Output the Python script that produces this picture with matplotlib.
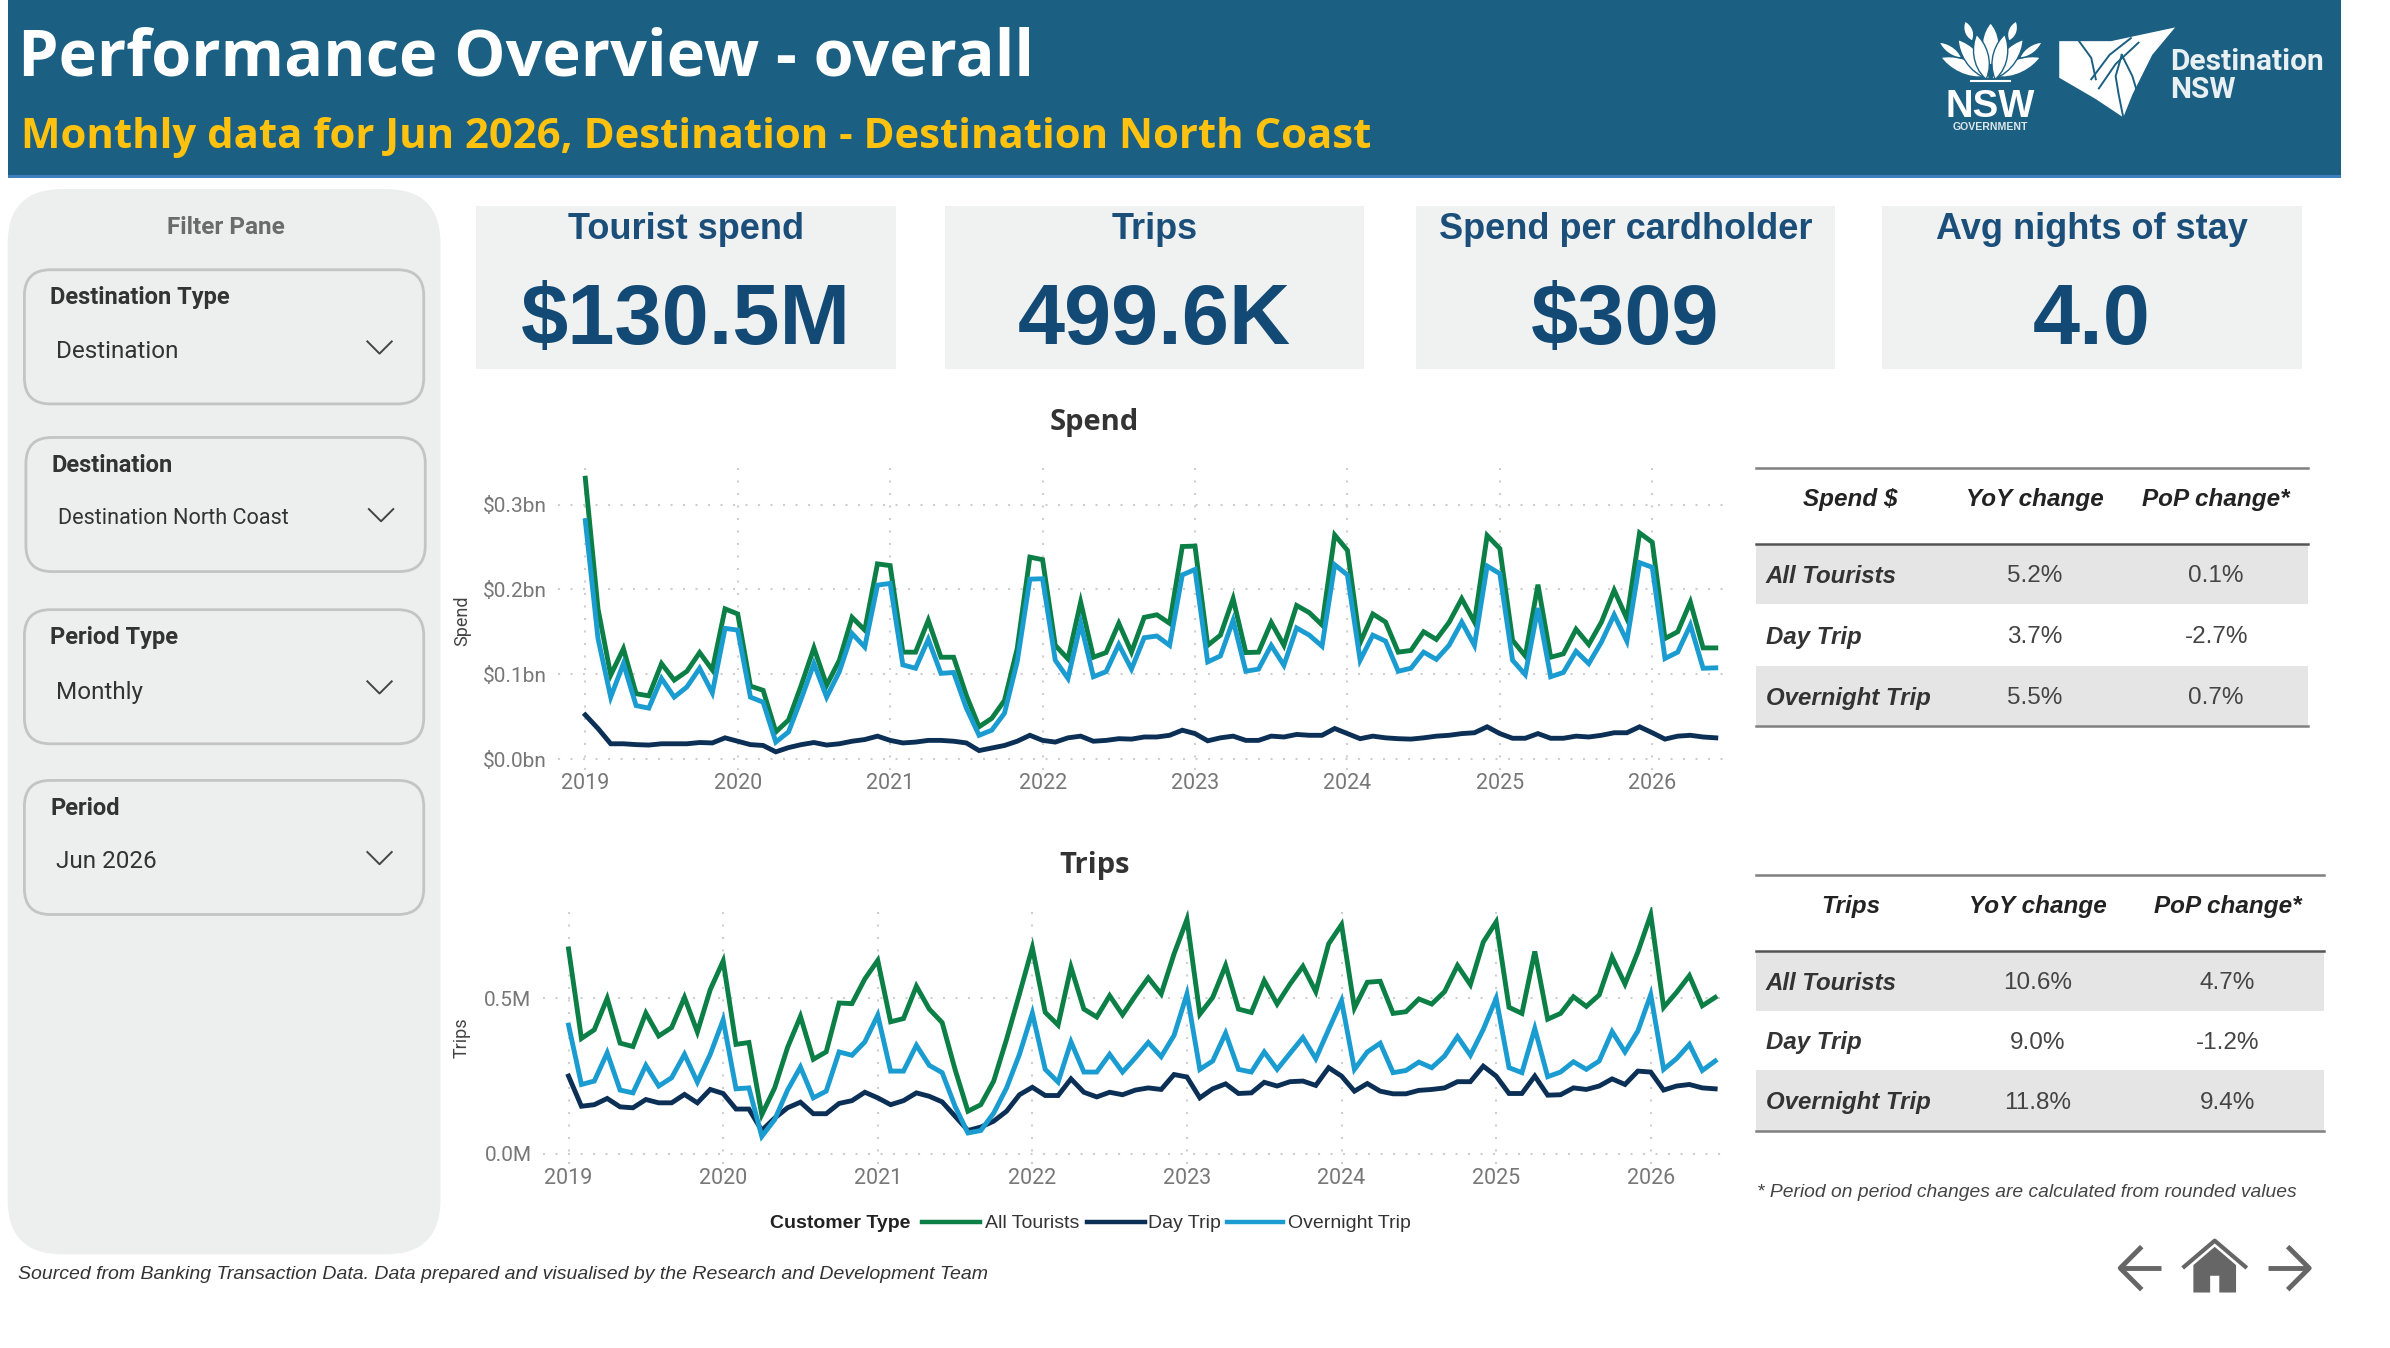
import matplotlib
matplotlib.use("Agg")
import matplotlib.pyplot as plt
from matplotlib.patches import FancyBboxPatch, Rectangle, Polygon, PathPatch
from matplotlib.path import Path
import numpy as np

years = [2019, 2020, 2021, 2022, 2023, 2024, 2025, 2026]

spend_all = [0.331,0.177,0.099,0.130,0.077,0.0745,0.1125,0.093,0.1035,0.1255,0.105,0.177,0.171,0.086,0.081,0.032,0.046,0.087,0.131,0.087,0.1165,0.167,0.152,0.230,0.228,0.126,0.126,0.1635,0.120,0.120,0.075,0.038,0.048,0.069,0.130,0.238,0.235,0.134,0.118,0.185,
0.120,0.1255,0.160,0.126,0.167,0.170,0.160,0.2505,0.251,0.134,0.146,0.189,0.1255,0.126,0.161,0.134,0.181,0.1725,0.158,0.264,0.246,0.137,0.171,0.1615,0.126,0.128,0.150,0.141,0.161,0.189,0.1615,0.2635,0.248,0.140,0.1215,0.2055,0.120,0.124,0.153,0.135,0.1615,0.199,0.1655,0.2665,0.2555,0.142,0.150,0.185,0.131,0.131]
spend_over = [0.281,0.142,0.073,0.1125,0.063,0.060,0.095,0.073,0.085,0.107,0.078,0.154,0.152,0.073,0.067,0.020,0.032,0.071,0.1125,0.073,0.103,0.148,0.132,0.205,0.207,0.111,0.107,0.141,0.101,0.102,0.060,0.028,0.034,0.054,0.1145,0.212,0.2125,0.1165,0.095,0.160,
0.097,0.103,0.135,0.106,0.143,0.145,0.134,0.217,0.2235,0.1145,0.1215,0.1635,0.1035,0.106,0.134,0.1105,0.1545,0.146,0.133,0.229,0.217,0.1165,0.146,0.139,0.1035,0.107,0.126,0.1175,0.134,0.1615,0.134,0.2275,0.2185,0.1165,0.0995,0.178,0.097,0.102,0.127,0.1125,0.138,0.170,0.139,0.2315,0.226,0.1185,0.126,0.158,0.107,0.1075]
spend_day = [0.052,0.036,0.018,0.018,0.017,0.0165,0.018,0.018,0.018,0.0195,0.019,0.025,0.021,0.017,0.016,0.0085,0.0135,0.017,0.0195,0.0165,0.018,0.021,0.023,0.027,0.022,0.019,0.020,0.022,0.022,0.021,0.019,0.010,0.013,0.016,0.021,0.028,0.022,0.020,0.025,0.027,
0.021,0.022,0.024,0.0235,0.026,0.026,0.028,0.034,0.030,0.0215,0.025,0.027,0.022,0.022,0.027,0.026,0.029,0.028,0.028,0.036,0.030,0.024,0.027,0.025,0.024,0.0235,0.025,0.027,0.028,0.030,0.031,0.038,0.030,0.0245,0.0245,0.030,0.0245,0.0245,0.027,0.026,0.028,0.031,0.031,0.038,0.031,0.0235,0.027,0.028,0.026,0.025]

trips_all = [0.659,0.371,0.399,0.500,0.356,0.345,0.4525,0.379,0.406,0.503,0.392,0.528,0.620,0.352,0.358,0.126,0.212,0.342,0.442,0.304,0.328,0.485,0.483,0.5625,0.622,0.4246,0.435,0.539,0.4655,0.422,0.2716,0.137,0.158,0.234,0.3685,0.514,0.663,0.455,0.414,0.600,0.4655,
0.44,0.5086,0.447,0.5086,0.566,0.514,0.643,0.754,0.449,0.503,0.6056,0.4655,0.4547,0.557,0.4817,0.546,0.603,0.5216,0.6756,0.737,0.469,0.5517,0.555,0.4515,0.457,0.498,0.4817,0.5216,0.6056,0.544,0.681,0.7457,0.471,0.4515,0.651,0.433,0.4515,0.505,0.474,0.511,0.6325,0.546,0.649,0.769,0.471,0.519,0.573,0.476,0.503]
trips_over = [0.414,0.223,0.234,0.325,0.205,0.196,0.2845,0.218,0.2446,0.320,0.2306,0.320,0.431,0.209,0.212,0.056,0.110,0.205,0.279,0.180,0.2015,0.3276,0.317,0.360,0.446,0.266,0.266,0.349,0.2845,0.261,0.153,0.067,0.075,0.131,0.212,0.320,0.4526,0.2716,0.2306,0.360,0.263,
0.263,0.320,0.263,0.309,0.358,0.3125,0.381,0.514,0.2716,0.2985,0.388,0.2716,0.263,0.3276,0.2716,0.323,0.374,0.306,0.400,0.4925,0.2716,0.3276,0.3556,0.261,0.268,0.295,0.277,0.3147,0.377,0.317,0.400,0.500,0.277,0.261,0.403,0.248,0.263,0.296,0.2716,0.2985,0.393,0.3276,0.395,0.512,0.2716,0.306,0.352,0.268,0.2985]
trips_day = [0.250,0.153,0.158,0.178,0.151,0.148,0.1746,0.164,0.164,0.191,0.164,0.207,0.194,0.144,0.144,0.075,0.115,0.148,0.166,0.129,0.129,0.162,0.171,0.198,0.180,0.158,0.171,0.196,0.185,0.167,0.121,0.075,0.086,0.105,0.137,0.190,0.214,0.1875,0.1875,0.241,0.198,
0.183,0.198,0.190,0.205,0.212,0.207,0.255,0.247,0.180,0.209,0.225,0.194,0.196,0.230,0.218,0.232,0.234,0.220,0.277,0.250,0.2015,0.226,0.2015,0.193,0.193,0.204,0.207,0.212,0.232,0.232,0.282,0.250,0.194,0.194,0.250,0.1886,0.190,0.212,0.207,0.218,0.241,0.223,0.266,0.263,0.205,0.218,0.223,0.212,0.209]

kpi_titles = ["Tourist spend", "Trips", "Spend per cardholder", "Avg nights of stay"]
kpi_values = ["$130.5M", "499.6K", "$309", "4.0"]
slicer_titles = ["Destination Type", "Destination", "Period Type", "Period"]
slicer_values = ["Destination", "Destination North Coast", "Monthly", "Jun 2026"]
table_rows = ["All Tourists", "Day Trip", "Overnight Trip"]
spend_header = ["Spend $", "YoY change", "PoP change*"]
spend_yoy = ["5.2%", "3.7%", "5.5%"]
spend_pop = ["0.1%", "-2.7%", "0.7%"]
trips_header = ["Trips", "YoY change", "PoP change*"]
trips_yoy = ["10.6%", "9.0%", "11.8%"]
trips_pop = ["4.7%", "-1.2%", "9.4%"]

GREEN, NAVY, BLUE = "#0B7F45", "#0B2F55", "#1A9CD0"
BANNER = "#1B6082"
W, H = 1568.0, 884.4
SANS, ARIAL, DIN = "Open Sans", "Liberation Sans", "Roboto"

fig = plt.figure(figsize=(23.9, 13.48), dpi=100, facecolor="white")
bg = fig.add_axes([0, 0, 1, 1], zorder=0)
bg.set_xlim(0, W); bg.set_ylim(H, 0); bg.axis("off")

def rrect(x0, y0, x1, y1, r, fc, ec="none", lw=0, z=1):
    bg.add_patch(FancyBboxPatch((x0 + r, y0 + r), x1 - x0 - 2*r, y1 - y0 - 2*r,
                 boxstyle=f"round,pad={r},rounding_size={r}", fc=fc, ec=ec, lw=lw, zorder=z))

# banner
bg.add_patch(Rectangle((5, 0), 1531, 115, fc=BANNER, ec="none"))
bg.add_patch(Rectangle((5, 115), 1531, 1.5, fc="#3F7FC0", ec="none"))
bg.text(12, 39, "Performance Overview - overall", color="white", fontsize=46.6, fontweight="bold",
        family=SANS, va="center", ha="left")
bg.text(14, 90, "Monthly data for Jun 2026, Destination - Destination North Coast", color="#FFC20E",
        fontsize=30.2, fontweight="bold", family=SANS, va="center", ha="left")

# logos
def petal(cx, cy, length, width, ang, fc="white"):
    a = np.deg2rad(ang)
    d = np.array([np.sin(a), -np.cos(a)]); n = np.array([d[1], -d[0]])
    b = np.array([cx, cy])
    verts = [b, b + d*length*.35 + n*width*.6, b + d*length*.8 + n*width*.35, b + d*length,
             b + d*length*.8 - n*width*.35, b + d*length*.35 - n*width*.6, b]
    codes = [Path.MOVETO, Path.CURVE4, Path.CURVE4, Path.CURVE4, Path.CURVE4, Path.CURVE4, Path.CURVE4]
    bg.add_patch(PathPatch(Path(verts, codes), fc=fc, ec=BANNER, lw=1.0, zorder=3))
for ang, l, w, base in [(-68, 33, 13, (1304, 50)), (68, 33, 13, (1308, 50)),
                        (-55, 18, 7, (1287, 38)), (55, 18, 7, (1325, 38)),
                        (-20, 14, 8, (1294, 27)), (20, 14, 8, (1318, 27)),
                        (0, 28, 15, (1306, 43)), (-38, 33, 14, (1305, 52)), (38, 33, 14, (1307, 52)),
                        (-12, 30, 13, (1303, 52)), (12, 30, 13, (1309, 52))]:
    petal(base[0], base[1], l, w, ang)
bg.plot([1293, 1319], [53, 53], color="white", lw=1.5, zorder=3)
bg.text(1306, 70, "NSW", color="white", fontsize=27.5, fontweight="bold", family=ARIAL, ha="center", va="center")
bg.text(1306, 83, "GOVERNMENT", color="#DDE6EA", fontsize=7.6, fontweight="bold", family=ARIAL, ha="center", va="center")
bg.add_patch(Polygon([(1351, 27), (1385, 27), (1427, 18), (1412, 36), (1399, 62), (1393, 77), (1375, 65), (1351, 51)],
                     closed=True, fc="white", ec="none", zorder=3))
for xs, ys in [([1364, 1372, 1375], [27, 38, 52]), ([1372, 1384, 1398], [52, 36, 25]),
               ([1377, 1388, 1403], [58, 42, 28]), ([1392, 1388, 1390, 1393], [36, 50, 62, 77]),
               ([1392, 1399, 1402], [36, 50, 60])]:
    bg.plot(xs, ys, color=BANNER, lw=1.4, zorder=4)
bg.text(1424, 41, "Destination", color="#E8F0F3", fontsize=21.5, fontweight="bold", family=DIN, ha="left", va="center")
bg.text(1424, 59, "NSW", color="#E8F0F3", fontsize=21.5, fontweight="bold", family=DIN, ha="left", va="center")

# filter pane
rrect(5, 124, 289, 823, 36, "#EDEEEE")
bg.text(148, 149.5, "Filter Pane", color="#6B6B6B", fontsize=17.5, fontweight="bold", family=DIN, ha="center", va="center")
for i, (t, v, (x0, y0)) in enumerate(zip(slicer_titles, slicer_values, [(16, 177), (17, 287), (16, 400), (16, 512)])):
    rrect(x0, y0, x0 + 262, y0 + 88, 17, "none", ec="#C4C4C4", lw=2.0, z=2)
    bg.text(x0 + 17, y0 + 18.5, t, color="#333333", fontsize=17, fontweight="bold", family=DIN, ha="left", va="center")
    bg.text(x0 + 21, y0 + (53.5 if i != 2 else 54.5), v, color="#333333", fontsize=17.5 if i != 1 else 15.6,
            family=DIN, ha="left", va="center")
    ax_, ay_ = x0 + 233, y0 + 51
    bg.plot([ax_ - 8, ax_, ax_ + 8], [ay_ - 4, ay_ + 4, ay_ - 4], color="#444444", lw=1.4, zorder=3)

# KPI cards
for t, v, (x0, x1) in zip(kpi_titles, kpi_values, [(312, 588), (620, 895), (929, 1204), (1235, 1510)]):
    bg.add_patch(Rectangle((x0, 135), x1 - x0, 107, fc="#F0F1F1", ec="none"))
    bg.text((x0 + x1) / 2, 150.5, t, color="#1B4F7A", fontsize=26, fontweight="bold", family=ARIAL, ha="center", va="center")
    bg.text((x0 + x1) / 2, 211, v, color="#134A75", fontsize=61, fontweight="bold", family=ARIAL, ha="center", va="center")

# charts
def line_chart(y_top, y_bot, x_left, x_right, x2019, x2026, yzero, ytick_v, ytick_px, ymax_ticks, labels, ylabel, yl_x, series, title, ty):
    ax = fig.add_axes([x_left / W, 1 - y_bot / H, (x_right - x_left) / W, (y_bot - y_top) / H], zorder=2)
    ax.patch.set_alpha(0)
    ppm = (x2026 - x2019) / 84
    ax.set_xlim((x_left - x2019) / ppm, (x_right - x2019) / ppm)
    ppv = (yzero - ytick_px) / ytick_v
    ax.set_ylim((yzero - y_bot) / ppv, (yzero - y_top) / ppv)
    ax.set_xticks([12 * i for i in range(len(years))])
    ax.set_xticklabels([str(y) for y in years], color="#777777", fontsize=15.5, family=DIN)
    ax.set_yticks(ymax_ticks)
    ax.set_yticklabels(labels, color="#777777", fontsize=15, family=DIN)
    ax.tick_params(axis="x", length=0, pad=2.5)
    ax.tick_params(axis="y", length=0, pad=8)
    ax.grid(True, color="#CFCFCF", lw=1.5, ls=(0, (1, 5)))
    ax.set_axisbelow(True)
    for s in ax.spines.values():
        s.set_visible(False)
    for vals, c, name in series:
        ax.plot(range(len(vals)), vals, color=c, lw=3.5, solid_joinstyle="miter", label=name)
    bg.text(yl_x, (y_top + y_bot) / 2 + 1, ylabel, rotation=90, color="#444444", fontsize=13, family=DIN, ha="center", va="center")
    bg.text(718, ty, title, color="#333333", fontsize=21, fontweight="bold", family=SANS, ha="center", va="center")
    return ax

line_chart(307, 505, 366, 1134, 384, 1084, 498, 0.3, 331, [0, 0.1, 0.2, 0.3],
           ["$0.0bn", "$0.1bn", "$0.2bn", "$0.3bn"], "Spend", 303,
           [(spend_all, GREEN, "All Tourists"), (spend_day, NAVY, "Day Trip"), (spend_over, BLUE, "Overnight Trip")], "Spend", 277)
line_chart(595, 764, 356, 1133, 373, 1083, 757, 0.5, 655, [0, 0.5],
           ["0.0M", "0.5M"], "Trips", 303,
           [(trips_all, GREEN, "All Tourists"), (trips_day, NAVY, "Day Trip"), (trips_over, BLUE, "Overnight Trip")], "Trips", 568)

# legend
bg.text(505, 803, "Customer Type", color="#222222", fontsize=14, fontweight="bold", family=ARIAL, ha="left", va="center")
for x0, x1, c, tx, t in [(605, 643, GREEN, 646, "All Tourists"), (713, 751, NAVY, 753, "Day Trip"), (805, 842, BLUE, 845, "Overnight Trip")]:
    bg.plot([x0, x1], [802, 802], color=c, lw=3.2, zorder=3)
    bg.text(tx, 803, t, color="#333333", fontsize=14, family=ARIAL, ha="left", va="center")

# tables
def table(x, ys, header, rows, yoy, pop, c_head):
    bg.add_patch(Rectangle((x[0], ys[1]), x[3] - x[0], ys[2] - ys[1], fc="#E5E5E5", ec="none", zorder=1))
    bg.add_patch(Rectangle((x[0], ys[3]), x[3] - x[0], ys[4] - ys[3], fc="#E5E5E5", ec="none", zorder=1))
    for y, c in zip([ys[0], ys[1], ys[4]], ["#808080", "#555555", "#808080"]):
        bg.plot([x[0], x[3]], [y, y], color=c, lw=1.8, zorder=2)
    hy = (ys[0] + ys[1]) / 2 - 4
    bg.text(c_head, hy, header[0], color="#222222", fontsize=17.5, fontweight="bold", style="italic", family=ARIAL, ha="center", va="center")
    bg.text((x[1] + x[2]) / 2, hy, header[1], color="#222222", fontsize=17.5, fontweight="bold", style="italic", family=ARIAL, ha="center", va="center")
    bg.text((x[2] + x[3]) / 2, hy, header[2], color="#222222", fontsize=17.5, fontweight="bold", style="italic", family=ARIAL, ha="center", va="center")
    for i in range(3):
        cy = (ys[i + 1] + ys[i + 2]) / 2 + 1.5
        bg.text(x[0] + 6.5, cy, rows[i], color="#333333", fontsize=17.3, fontweight="bold", style="italic", family=ARIAL, ha="left", va="center")
        bg.text((x[1] + x[2]) / 2, cy, yoy[i], color="#444444", fontsize=17.5, family=ARIAL, ha="center", va="center")
        bg.text((x[2] + x[3]) / 2, cy, pop[i], color="#444444", fontsize=17.5, family=ARIAL, ha="center", va="center")

table([1152, 1276, 1394, 1514], [307, 357, 396, 437, 476], spend_header, table_rows, spend_yoy, spend_pop, 1214)
table([1152, 1276, 1398, 1525], [574, 624, 663, 702, 742], trips_header, table_rows, trips_yoy, trips_pop, 1214)

bg.text(1153, 782.5, "* Period on period changes are calculated from rounded values", color="#444444", fontsize=13.9, style="italic", family=ARIAL, ha="left", va="center")
bg.text(12, 836.5, "Sourced from Banking Transaction Data. Data prepared and visualised by the Research and Development Team",
        color="#333333", fontsize=14, style="italic", family=ARIAL, ha="left", va="center")

# nav icons
IC = "#666666"
bg.plot([1418, 1391], [832, 832], color=IC, lw=3.5, solid_capstyle="butt")
bg.plot([1404, 1391, 1404], [819, 832, 845], color=IC, lw=3.5)
bg.plot([1488, 1514], [832, 832], color=IC, lw=3.5, solid_capstyle="butt")
bg.plot([1502, 1515, 1502], [819, 832, 845], color=IC, lw=3.5)
bg.add_patch(Polygon([(1439, 830), (1453, 818), (1467, 830), (1467, 848), (1456, 848), (1456, 837), (1450, 837), (1450, 848), (1439, 848)],
                     closed=True, fc=IC, ec="none"))
bg.plot([1433, 1453, 1473], [831, 814, 831], color=IC, lw=3)

fig.savefig("out.png", dpi=100, facecolor="white")
